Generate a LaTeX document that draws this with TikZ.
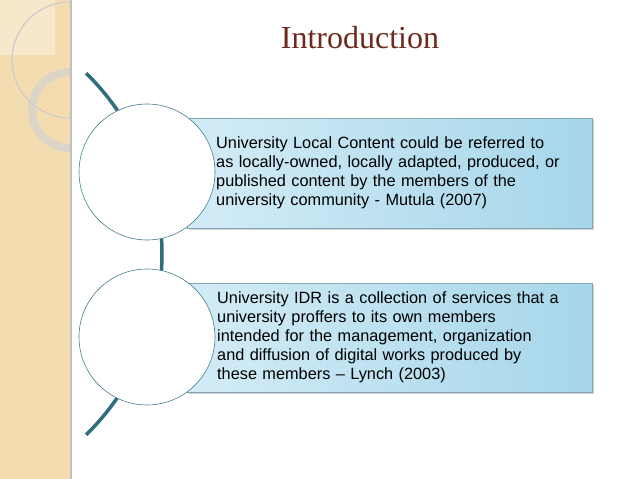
\documentclass[tikz,border=0pt]{standalone}
\usepackage{fontspec}
\setmainfont{Liberation Sans}
\newfontfamily\titlefont{Liberation Serif}
\usetikzlibrary{shadows}
\definecolor{strip}{HTML}{F3DDB0}
\definecolor{teal}{HTML}{2F6E7E}
\definecolor{boxl}{HTML}{D3ECF6}
\definecolor{boxr}{HTML}{A6D6EA}
\definecolor{titlec}{HTML}{6E2A1C}
\newcommand{\jl}[1]{\makebox[372pt][s]{#1}\\}
\tikzset{
  txtbox/.style={draw=teal!60, line width=0.6pt, left color=boxl, right color=boxr, drop shadow={shadow xshift=2pt,shadow yshift=-2pt,opacity=0.35}},
  circ/.style={circle, draw=teal!90, fill=white, line width=0.6pt, minimum size=136pt, inner sep=0pt},
  arcline/.style={draw=teal, line width=3.5pt},
  txt/.style={font=\fontsize{16.3pt}{19pt}\selectfont, text width=372pt, align=left, inner sep=0pt, anchor=west}
}
\begin{document}
\begin{tikzpicture}[x=1pt,y=-1pt]
\useasboundingbox (0,0) rectangle (638,479);
\fill[white] (0,0) rectangle (638,479);
\fill[strip] (0,0) rectangle (70,479);
\fill[white,opacity=0.35] (0,0) rectangle (55,55);
\begin{scope}
\clip (0,0) rectangle (70,479);
\draw[white!60!gray, line width=1.2pt] (70,60) circle (58);
\draw[gray!35, line width=8pt, opacity=0.7] (70,110) circle (38);
\end{scope}
\fill[gray!50] (70,0) rectangle (71.5,479);
\node[font=\titlefont\fontsize{32pt}{36pt}\selectfont, text=titlec] (title) at (360,38) {Introduction};
\path[txtbox] (187,118) rectangle (592,228);
\path[txtbox] (187,283) rectangle (592,392);
\draw[arcline] (-91.5,254) ++(-45.5:253.5) arc[start angle=-45.5, end angle=45.5, radius=253.5];
\node[circ] (c1) at (147,172) {};
\node[circ] (c2) at (147,337) {};
\node[txt] (t1) at (216,173) {\jl{University Local Content could be referred to}\jl{as locally-owned, locally adapted, produced, or}\jl{published content by the members of the}university community - Mutula (2007)};
\node[txt] (t2) at (217,337) {\jl{University IDR is a collection of services that a}\jl{university proffers to its own members}\jl{intended for the management, organization}\jl{and diffusion of digital works produced by}these members -- Lynch (2003)};
\end{tikzpicture}
\end{document}
